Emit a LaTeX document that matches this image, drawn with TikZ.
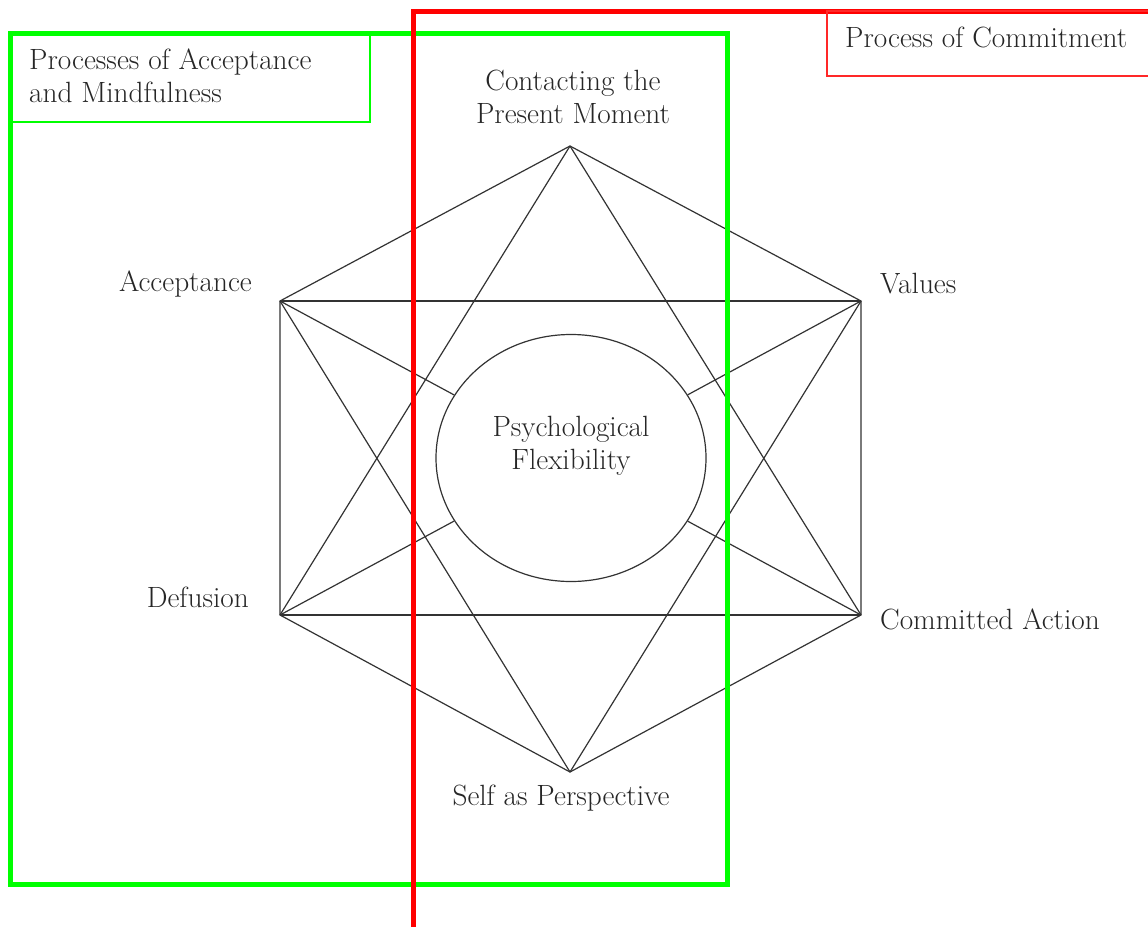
\documentclass[tikz,border=0pt]{standalone}
\usetikzlibrary{shapes.geometric}
\begin{document}
\begin{tikzpicture}[x=1pt,y=-1pt,
  edge/.style={draw=black!80,line width=1.2pt},
  lbl/.style={font=\fontsize{29.3}{33}\selectfont,text=black!85,inner sep=0pt},
  greenframe/.style={draw={rgb,255:red,0;green,255;blue,0},line width=5pt},
  redframe/.style={draw={rgb,255:red,255;green,0;blue,0},line width=5pt},
  greenlbl/.style={draw={rgb,255:red,0;green,255;blue,0},line width=1.5pt},
  redlbl/.style={draw={rgb,255:red,255;green,40;blue,40},line width=1.5pt}]
\useasboundingbox (0,0) rectangle (1148,926);
\clip (0,0) rectangle (1148,926);
\fill[white] (0,0) rectangle (1148,926);
% vertices
\coordinate (T) at (570,146);
\coordinate (A) at (280,301);
\coordinate (V) at (861,301);
\coordinate (D) at (280,615);
\coordinate (C) at (861,615);
\coordinate (S) at (570,772);
% center
\node[ellipse,draw=black!80,line width=1.2pt,minimum width=270pt,minimum height=247pt,inner sep=0pt,fill=white] (pf) at (571,458) {};
\node[lbl,align=center] (pftxt) at (pf.center) [yshift=12pt] {Psychological\\Flexibility};
% hexagon
\draw[edge] (T) -- (A) -- (D) -- (S) -- (C) -- (V) -- (T);
\draw[edge] (A) -- (V);
\draw[edge] (D) -- (C);
\draw[edge] (T) -- (D);
\draw[edge] (T) -- (C);
\draw[edge] (A) -- (S);
\draw[edge] (V) -- (S);
\draw[edge] (A) -- (pf);
\draw[edge] (V) -- (pf);
\draw[edge] (D) -- (pf);
\draw[edge] (C) -- (pf);
% labels
\node[lbl,align=center] (lT) at (573,97) {Contacting the\\Present Moment};
\node[lbl,anchor=east] (lA) at (252,284) {Acceptance};
\node[lbl,anchor=west] (lV) at (880,284) {Values};
\node[lbl,anchor=east] (lD) at (249,597) {Defusion};
\node[lbl,anchor=west] (lC) at (880,619) {Committed Action};
\node[lbl] (lS) at (561,798) {Self as Perspective};
% frames
\draw[greenframe] (10,33) rectangle (727,884);
\draw[greenlbl] (10,33) rectangle (370,122);
\node[lbl,anchor=west,align=left] (lG) at (29,76) {Processes of Acceptance\\and Mindfulness};
\draw[redframe] (413,940) -- (413,11) -- (1160,11);
\draw[redlbl] (1160,11) -- (827,11) -- (827,76) -- (1160,76);
\node[lbl,anchor=west] (lR) at (845,37) {Process of Commitment};
\end{tikzpicture}
\end{document}
